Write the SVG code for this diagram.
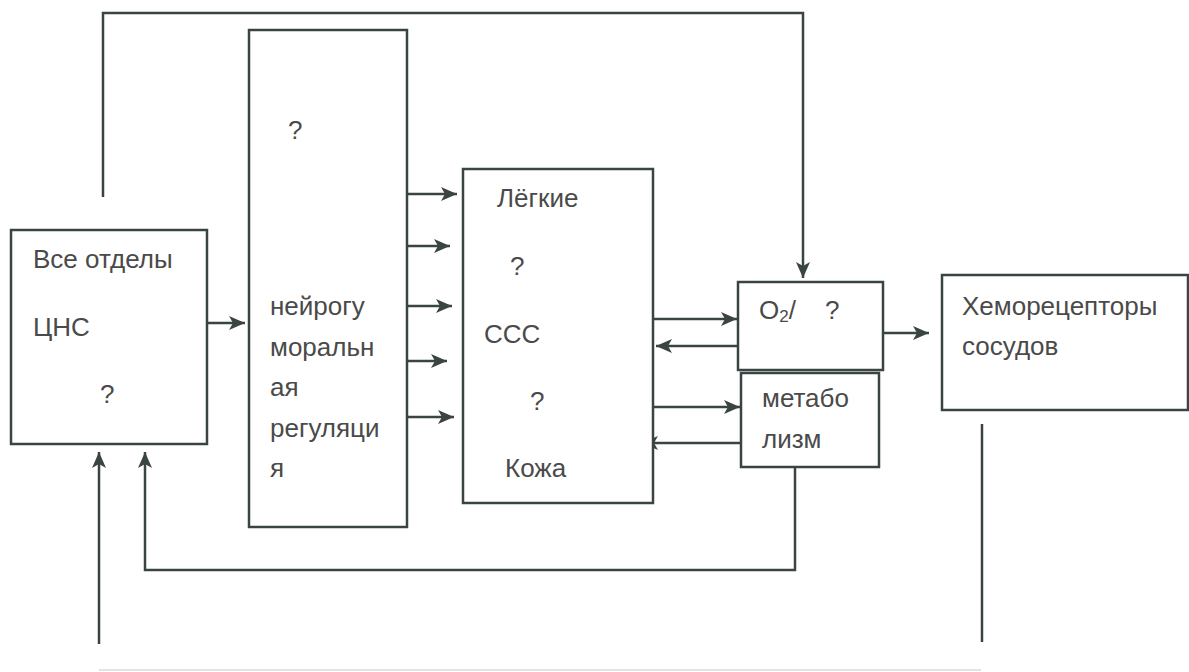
<svg xmlns="http://www.w3.org/2000/svg" width="1189" height="672" viewBox="0 0 1189 672">
<style>
.box{fill:#fff;stroke:#3a4443;stroke-width:2.5}
.ln{fill:none;stroke:#3a4443;stroke-width:2.5}
.t{font-family:"Liberation Sans",Arial,sans-serif;font-size:26px;fill:#4a4a4a}
</style>
<defs>
<marker id="ah" markerUnits="userSpaceOnUse" markerWidth="18" markerHeight="16" refX="16" refY="7" orient="auto">
<path d="M0,0 L16,7 L0,14 L4,7 z" fill="#3a4443"/>
</marker>
</defs>
<rect width="1189" height="672" fill="#fff"/>
<g id="connectors">
<path class="ln" d="M103,197 V13 H803 V278" marker-end="url(#ah)"/>
<path class="ln" d="M207,323 H245" marker-end="url(#ah)"/>
<path class="ln" d="M408,194 H457" marker-end="url(#ah)"/>
<path class="ln" d="M408,246 H450" marker-end="url(#ah)"/>
<path class="ln" d="M408,306 H452" marker-end="url(#ah)"/>
<path class="ln" d="M408,361 H447" marker-end="url(#ah)"/>
<path class="ln" d="M408,417 H454" marker-end="url(#ah)"/>
<path class="ln" d="M653,319 H737" marker-end="url(#ah)"/>
<path class="ln" d="M738,346 H656" marker-end="url(#ah)"/>
<path class="ln" d="M653,407 H740" marker-end="url(#ah)"/>
<path class="ln" d="M741,443 H642" marker-end="url(#ah)"/>
<path class="ln" d="M883,333 H929" marker-end="url(#ah)"/>
<path class="ln" d="M795,467 V570 H145 V452" marker-end="url(#ah)"/>
<path class="ln" d="M99,644 V452" marker-end="url(#ah)"/>
<path class="ln" d="M982,424 V642"/>
<path fill="none" stroke="#e2e4e4" stroke-width="2" d="M99,670 H981"/>
</g>
<g id="cns">
<rect class="box" x="11" y="230" width="196" height="214"/>
<text class="t" x="33" y="268">Все отделы</text>
<text class="t" x="33" y="336">ЦНС</text>
<text class="t" x="100" y="403">?</text>
</g>
<g id="neuro">
<rect class="box" x="249" y="30" width="158" height="497"/>
<text class="t" x="288" y="139">?</text>
<text class="t" x="270" y="315">нейрогу</text>
<text class="t" x="270" y="356">моральн</text>
<text class="t" x="270" y="396">ая</text>
<text class="t" x="270" y="437">регуляци</text>
<text class="t" x="270" y="477">я</text>
</g>
<g id="organs">
<rect class="box" x="463" y="169" width="190" height="334"/>
<text class="t" x="497" y="207">Лёгкие</text>
<text class="t" x="510" y="275">?</text>
<text class="t" x="484" y="343">ССС</text>
<text class="t" x="530" y="410">?</text>
<text class="t" x="505" y="477">Кожа</text>
</g>
<g id="o2">
<rect class="box" x="738" y="282" width="145" height="88"/>
<text class="t" x="759" y="319">O<tspan font-size="17" dy="3">2</tspan><tspan dy="-3">/</tspan><tspan x="825">?</tspan></text>
</g>
<g id="metab">
<rect class="box" x="741" y="373" width="138" height="94"/>
<text class="t" x="762" y="407">метабо</text>
<text class="t" x="762" y="448">лизм</text>
</g>
<g id="chemo">
<rect class="box" x="942" y="275" width="246" height="135"/>
<text class="t" x="962" y="315">Хеморецепторы</text>
<text class="t" x="962" y="355">сосудов</text>
</g>
</svg>
